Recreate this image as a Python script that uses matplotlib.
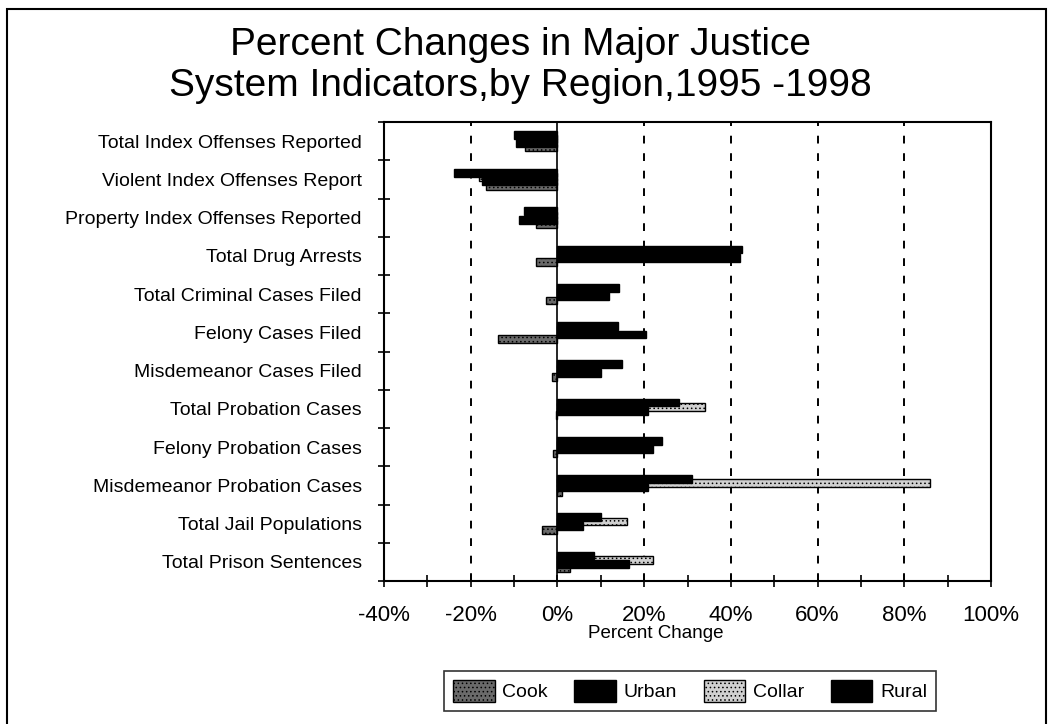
import matplotlib.pyplot as plt
import matplotlib.ticker as mticker
import numpy as np
from matplotlib.patches import Rectangle

plt.rcParams["font.family"] = ["Liberation Sans", "DejaVu Sans"]
plt.rcParams["hatch.linewidth"] = 0.6

categories = [
    "Total Index Offenses Reported",
    "Violent Index Offenses Report",
    "Property Index Offenses Reported",
    "Total Drug Arrests",
    "Total Criminal Cases Filed",
    "Felony Cases Filed",
    "Misdemeanor Cases Filed",
    "Total Probation Cases",
    "Felony Probation Cases",
    "Misdemeanor Probation Cases",
    "Total Jail Populations",
    "Total Prison Sentences",
]

# percent change, 1995-1998
cook = [-7.5, -16.4, -4.9, -5.0, -2.6, -13.6, -1.2, -0.3, -1.0, 1.0, -3.5, 3.0]
urban = [-9.5, -17.3, -8.8, 42.0, 12.0, 20.5, 10.0, 21.0, 22.0, 21.0, 6.0, 16.5]
collar = [-7.0, -18.0, -5.5, 30.0, 9.0, 12.5, 8.0, 34.0, 13.6, 86.0, 16.0, 22.0]
rural = [-10.0, -23.8, -7.8, 42.5, 14.3, 14.0, 14.8, 28.0, 24.2, 31.0, 10.0, 8.5]

series = [
    ("Cook", cook, "#6a6a6a", "....", 3),
    ("Urban", urban, "black", None, 4),
    ("Collar", collar, "#d0d0d0", "....", 2),
    ("Rural", rural, "black", None, 5),
]

W, H = 1048, 724
fig = plt.figure(figsize=(W / 100, H / 100), dpi=100)
ax = fig.add_axes([384 / W, 1 - 581 / H, (991 - 384) / W, (581 - 122) / H])

y = np.arange(len(categories))
d = 0.11
h = 0.2
offsets = [1.5 * d, 0.5 * d, -0.5 * d, -1.5 * d]
for (name, vals, color, hatch, z), off in zip(series, offsets):
    ax.barh(y + off, vals, height=h, color=color, edgecolor="black",
            linewidth=1.0, hatch=hatch, label=name, zorder=z)

ax.set_ylim(len(categories) - 0.5, -0.5)
ax.set_xlim(-40, 100)
ax.set_yticks(y)
ax.set_yticklabels(categories, fontsize=14)
ax.set_yticks(np.arange(-0.5, len(categories), 1), minor=True)
ax.tick_params(axis="y", which="major", length=0, pad=16)
ax.tick_params(axis="y", which="minor", direction="inout", length=8, width=1.2)

ax.xaxis.set_major_locator(mticker.MultipleLocator(20))
ax.xaxis.set_minor_locator(mticker.MultipleLocator(10))
ax.xaxis.set_major_formatter(mticker.FuncFormatter(lambda v, p: f"{v:.0f}%"))
ax.tick_params(axis="x", which="both", direction="inout", length=8, width=1.2,
               labelsize=16, pad=13)

for v in [-20, 20, 40, 60, 80]:
    ax.axvline(v, color="black", linestyle=(0, (4, 5)), linewidth=1.4, zorder=1)
ax.axvline(0, color="black", linewidth=1.2, zorder=6)

for s in ax.spines.values():
    s.set_linewidth(1.5)

fig.text(656 / W, 1 - 634 / H, "Percent Change", ha="center", va="center",
         fontsize=13.5)

fig.text(0.497, 1 - 45 / H, "Percent Changes in Major Justice", ha="center",
         va="center", fontsize=28)
fig.text(0.497, 1 - 86 / H, "System Indicators,by Region,1995 -1998", ha="center",
         va="center", fontsize=28)

handles, labels = ax.get_legend_handles_labels()
leg = fig.legend(handles, labels, loc="center",
                 bbox_to_anchor=(690 / W, 1 - 691 / H),
                 ncol=4, fontsize=14, frameon=True, fancybox=False,
                 edgecolor="black", handlelength=2.15, handleheight=1.35,
                 columnspacing=1.35, handletextpad=0.4, borderpad=0.45)
leg.get_frame().set_linewidth(1.2)

fig.patches.append(Rectangle((7 / W, -0.01), (1046 - 7) / W, 1 - 9 / H + 0.01,
                             transform=fig.transFigure, fill=False,
                             edgecolor="black", linewidth=1.5))

fig.savefig("out.png", dpi=100)
